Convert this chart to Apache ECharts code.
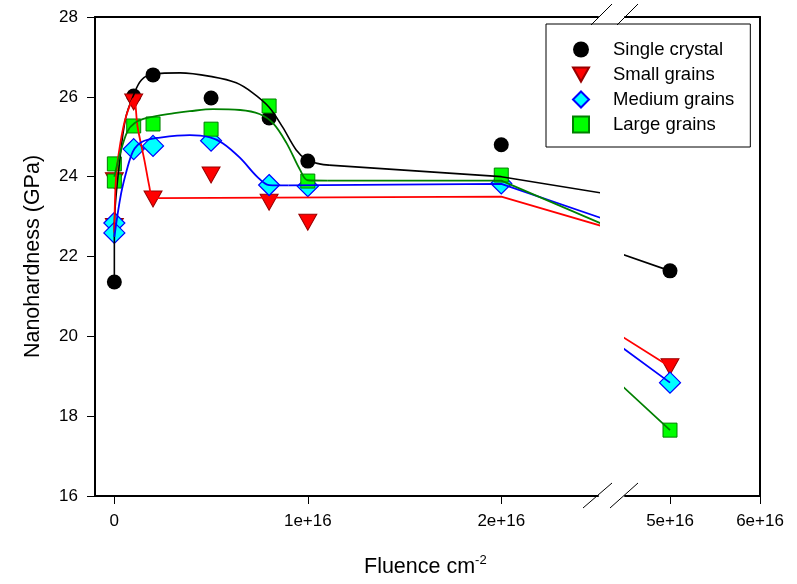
<!DOCTYPE html>
<html><head><meta charset="utf-8">
<script src="https://cdn.jsdelivr.net/npm/echarts@6/dist/echarts.min.js"></script>
<style>html,body{margin:0;padding:0;background:#fff}#c{width:797px;height:584px}</style>
</head><body><div id="c"></div>
<script>
// ---- data ----
const legendNames = ['Single crystal', 'Small grains', 'Medium grains', 'Large grains'];

const singleX = [0, 1e15, 2e15, 5e15, 8e15, 1e16, 2e16, 5e16];
const singleY = [21.36, 26.02, 26.55, 25.97, 25.47, 24.39, 24.8, 21.64];
const smallX = [0, 0, 1e15, 2e15, 5e15, 8e15, 1e16, 5e16];
const smallY = [23.9, 22.75, 25.87, 23.44, 24.04, 23.36, 22.86, 19.24];
const mediumX = [0, 0, 1e15, 2e15, 5e15, 8e15, 1e16, 2e16, 5e16];
const mediumY = [22.84, 22.59, 24.69, 24.77, 24.9, 23.79, 23.76, 23.83, 18.84];
const largeX = [0, 0, 1e15, 2e15, 5e15, 8e15, 1e16, 2e16, 5e16];
const largeY = [24.32, 23.89, 25.27, 25.32, 25.19, 25.77, 23.89, 24.04, 17.65];

// fitted curves
const singleFitX = [0, 0, 3e14, 6e14, 1e15, 1.4e15, 2e15, 3.4e15, 5.1e15, 6.3e15, 7.15e15, 8e15, 8.7e15, 9.4e15, 9.95e15, 1.06e16, 1.11e16];
const singleFitY = [21.36, 22.7, 24.5, 25.5, 26.05, 26.42, 26.57, 26.6, 26.5, 26.35, 26.1, 25.74, 25.24, 24.67, 24.42, 24.32, 24.29];
const singleTailX = [1.11e16, 2e16, 5e16];
const singleTailY = [24.29, 24.0, 21.64];

const smallFitX = [0, 0.9e14, 3.1e14, 6e14, 1e15, 1.2e15, 1.55e15, 1.81e15, 1.95e15, 2.3e15];
const smallFitY = [22.6, 24.0, 24.84, 25.5, 25.96, 25.25, 24.42, 23.75, 23.5, 23.46];
const smallTailX = [2.3e15, 2e16, 5e16];
const smallTailY = [23.46, 23.5, 19.24];

const mediumFitX = [0, 3.5e14, 6.9e14, 9.5e14, 1.2e15, 1.55e15, 2.2e15, 3.9e15, 4.9e15, 5.6e15, 6.5e15, 7.4e15, 8e15, 9e15];
const mediumFitY = [22.49, 23.58, 24.25, 24.62, 24.79, 24.9, 24.97, 25.04, 24.99, 24.84, 24.47, 23.99, 23.79, 23.78];
const mediumTailX = [9e15, 2e16, 5e16];
const mediumTailY = [23.78, 23.82, 18.84];

const largeFitX = [0, 2.5e14, 6.7e14, 1.04e15, 1.7e15, 3.1e15, 3.9e15, 5.1e15, 6.5e15, 7.5e15, 8.2e15, 8.9e15, 9.6e15, 1.0e16, 1.1e16];
const largeFitY = [24.0, 24.5, 25.13, 25.34, 25.47, 25.59, 25.64, 25.69, 25.67, 25.57, 25.34, 24.84, 24.17, 23.91, 23.9];
const largeTailX = [1.1e16, 2e16, 5e16];
const largeTailY = [23.9, 23.9, 17.65];

// axes
const xTicksLeft = [0, 1e16, 2e16];
const xTickLabelsLeft = ['0', '1e+16', '2e+16'];
const xTicksRight = [5e16, 6e16];
const xTickLabelsRight = ['5e+16', '6e+16'];
const yTicks = [16, 18, 20, 22, 24, 26, 28];

// ---- chart ----
function pts(xs, ys) { return xs.map((x, i) => [x, ys[i]]); }
const FONT = 'Liberation Sans, Arial, sans-serif';

const groups = [
  { name: legendNames[0], x: singleX, y: singleY, fx: singleFitX, fy: singleFitY, tx: singleTailX, ty: singleTailY,
    symbol: 'circle', size: 15, rotate: 0, fill: '#000000', border: '#000000', bw: 0, line: '#000000', lw: 1.6,
    icon: 'circle' },
  { name: legendNames[1], x: smallX, y: smallY, fx: smallFitX, fy: smallFitY, tx: smallTailX, ty: smallTailY,
    symbol: 'triangle', size: [18, 16], rotate: 180, fill: '#ff0000', border: '#990000', bw: 1, line: '#ff0000', lw: 1.8,
    icon: 'path://M0,0 L18,0 L9,16 Z' },
  { name: legendNames[2], x: mediumX, y: mediumY, fx: mediumFitX, fy: mediumFitY, tx: mediumTailX, ty: mediumTailY,
    symbol: 'diamond', size: [21, 21], rotate: 0, fill: '#00ffff', border: '#0000ff', bw: 1.2, line: '#0000ff', lw: 1.8,
    icon: 'diamond' },
  { name: legendNames[3], x: largeX, y: largeY, fx: largeFitX, fy: largeFitY, tx: largeTailX, ty: largeTailY,
    symbol: 'rect', size: 14, rotate: 0, fill: '#00ff00', border: '#008000', bw: 1, line: '#008000', lw: 1.8,
    icon: 'path://M1,1 L15,1 L15,15 L1,15 Z' }
];

const series = [];
[0, 1].forEach(g => {
  groups.forEach(s => {
    series.push({
      type: 'scatter', name: s.name, xAxisIndex: g, yAxisIndex: g,
      data: pts(s.x, s.y), symbol: s.symbol, symbolSize: s.size, symbolRotate: s.rotate,
      itemStyle: { color: s.fill, borderColor: s.border, borderWidth: s.bw, opacity: 1 },
      z: 2, clip: true, silent: true
    });
  });
  groups.forEach(s => {
    if (g === 0) {
      series.push({
        type: 'line', xAxisIndex: g, yAxisIndex: g, data: pts(s.fx, s.fy),
        smooth: 0.35, showSymbol: false, symbol: 'none',
        lineStyle: { color: s.line, width: s.lw }, z: 3, clip: true, silent: true
      });
    }
    series.push({
      type: 'line', xAxisIndex: g, yAxisIndex: g, data: pts(s.tx, s.ty),
      smooth: false, showSymbol: false, symbol: 'none',
      lineStyle: { color: s.line, width: s.lw }, z: 3, clip: true, silent: true
    });
  });
});

const axisLineStyle = { show: true, onZero: false, lineStyle: { color: '#000', width: 2 } };
const labelStyle = { color: '#000', fontFamily: FONT, fontSize: 17 };

const option = {
  animation: false,
  backgroundColor: '#fff',
  grid: [
    { left: 95, right: 199, top: 17, bottom: 88 },
    { left: 625, right: 37, top: 17, bottom: 88 }
  ],
  xAxis: [
    { type: 'value', gridIndex: 0, min: -1e15, max: 2.5e16, position: 'bottom',
      axisLine: axisLineStyle,
      axisTick: { show: true, inside: false, length: 8, customValues: xTicksLeft, lineStyle: { color: '#000', width: 1 } },
      axisLabel: { ...labelStyle, margin: 17, customValues: xTicksLeft,
        formatter: v => xTickLabelsLeft[xTicksLeft.indexOf(v)] },
      splitLine: { show: false } },
    { type: 'value', gridIndex: 1, min: 4.5e16, max: 6e16, position: 'bottom',
      axisLine: axisLineStyle,
      axisTick: { show: true, inside: false, length: 8, customValues: xTicksRight, lineStyle: { color: '#000', width: 1 } },
      axisLabel: { ...labelStyle, margin: 17, customValues: xTicksRight,
        formatter: v => xTickLabelsRight[xTicksRight.indexOf(v)] },
      splitLine: { show: false } },
    { type: 'value', gridIndex: 0, min: -1e15, max: 2.5e16, position: 'top',
      axisLine: axisLineStyle, axisTick: { show: false }, axisLabel: { show: false }, splitLine: { show: false } },
    { type: 'value', gridIndex: 1, min: 4.5e16, max: 6e16, position: 'top',
      axisLine: axisLineStyle, axisTick: { show: false }, axisLabel: { show: false }, splitLine: { show: false } }
  ],
  yAxis: [
    { type: 'value', gridIndex: 0, min: yTicks[0], max: yTicks[yTicks.length - 1], interval: 2, position: 'left',
      name: 'Nanohardness (GPa)', nameLocation: 'middle', nameGap: 51,
      nameTextStyle: { color: '#000', fontFamily: FONT, fontSize: 21.5 },
      axisLine: axisLineStyle,
      axisTick: { show: true, inside: false, length: 8, lineStyle: { color: '#000', width: 1 } },
      axisLabel: { ...labelStyle, margin: 17 },
      splitLine: { show: false } },
    { type: 'value', gridIndex: 1, min: yTicks[0], max: yTicks[yTicks.length - 1], interval: 2, position: 'right',
      axisLine: axisLineStyle, axisTick: { show: false }, axisLabel: { show: false }, splitLine: { show: false } }
  ],
  title: {
    text: 'Fluence cm{sup|-2}', left: 364, top: 554, padding: 0,
    textStyle: { color: '#000', fontFamily: FONT, fontSize: 21.5, fontWeight: 'normal',
      rich: { sup: { fontFamily: FONT, fontSize: 13, verticalAlign: 'top', padding: [0, 0, 13, 0], color: '#000' } } }
  },
  legend: {
    data: groups.map(s => ({ name: s.name, icon: s.icon })),
    orient: 'vertical', left: 546, top: 24,
    padding: [16, 16, 13, 26], itemGap: 6, itemWidth: 16, itemHeight: 16,
    borderColor: '#000', borderWidth: 1, backgroundColor: '#fff',
    textStyle: { color: '#000', fontFamily: FONT, fontSize: 18.5, lineHeight: 19, padding: [0, 0, 0, 19] },
    selectedMode: false
  },
  graphic: [
    { type: 'line', shape: { x1: 583, y1: 508, x2: 612, y2: 483 }, style: { stroke: '#000', lineWidth: 1 }, z: 100 },
    { type: 'line', shape: { x1: 610, y1: 508, x2: 638, y2: 483 }, style: { stroke: '#000', lineWidth: 1 }, z: 100 },
    { type: 'line', shape: { x1: 591, y1: 25, x2: 612, y2: 4 }, style: { stroke: '#000', lineWidth: 1 }, z: 100 },
    { type: 'line', shape: { x1: 617, y1: 25, x2: 638, y2: 4 }, style: { stroke: '#000', lineWidth: 1 }, z: 100 }
  ],
  series: series
};

const chart = echarts.init(document.getElementById('c'), null, { renderer: 'canvas' });
chart.setOption(option);
</script>
</body></html>
